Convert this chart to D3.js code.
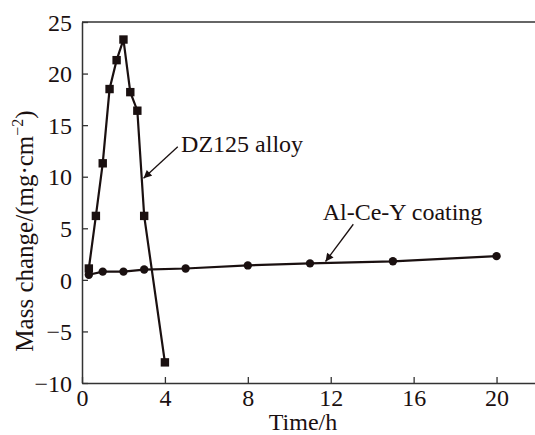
<!DOCTYPE html>
<html><head><meta charset="utf-8">
<script src="https://cdn.jsdelivr.net/npm/d3@7"></script>
<style>body{margin:0;background:#fff}</style>
</head><body><svg id="c" width="535" height="435"></svg>
<script>
const dzTime = [0.33, 0.67, 1, 1.33, 1.67, 2, 2.33, 2.67, 3, 4];
const dzMass = [1.1, 6.2, 11.3, 18.5, 21.3, 23.3, 18.2, 16.4, 6.2, -8.0];
const coTime = [0.33, 1, 2, 3, 5, 8, 11, 15, 20];
const coMass = [0.5, 0.8, 0.8, 1.0, 1.1, 1.4, 1.6, 1.8, 2.3];
const xTicks = [0, 4, 8, 12, 16, 20];
const yTicks = [-10, -5, 0, 5, 10, 15, 20, 25];
const labels = [
  {text: "DZ125 alloy", x: 4.78, y: 12.4, ax: 4.62, ay: 12.9, tx: 2.97, ty: 9.85},
  {text: "Al-Ce-Y coating", x: 11.61, y: 5.8, ax: 13.09, ay: 5.39, tx: 11.75, ty: 1.78}
];

const FONT = "'Liberation Serif', 'Times New Roman', Times, serif";
const col = "#1a1010";
const svg = d3.select("#c");
const x = d3.scaleLinear().domain([0, 22]).range([82, 538]);
const y = d3.scaleLinear().domain([-10, 25]).range([383, 22]);

svg.append("defs").append("marker").attr("id","ah").attr("viewBox","0 0 10 10")
  .attr("refX",10).attr("refY",5).attr("markerWidth",10).attr("markerHeight",8)
  .attr("markerUnits","userSpaceOnUse").attr("orient","auto")
  .append("path").attr("d","M0,0L10,5L0,10z").attr("fill",col);

// frame top
svg.append("line").attr("x1",x(0)).attr("x2",x(22)).attr("y1",y(25)).attr("y2",y(25))
  .attr("stroke","#333").attr("stroke-width",1.5);

const xa = svg.append("g").attr("transform",`translate(0,${y(-10)})`)
  .call(d3.axisBottom(x).tickValues(xTicks).tickSizeInner(-6).tickSizeOuter(0).tickPadding(6).tickFormat(d3.format("d")));
const ya = svg.append("g").attr("transform",`translate(${x(0)},0)`)
  .call(d3.axisLeft(y).tickValues(yTicks).tickSizeInner(-6).tickSizeOuter(0).tickPadding(10).tickFormat(d3.format("d")));
[xa, ya].forEach(g => {
  g.attr("font-family", FONT).attr("font-size", 24);
  g.select(".domain").attr("stroke","#333").attr("stroke-width",1.5);
  g.selectAll(".tick line").attr("stroke","#333").attr("stroke-width",1.3);
  g.selectAll(".tick text").style("font-family",FONT).style("font-size","24px").attr("fill",col);
});
xa.selectAll(".tick text").attr("dy","0.71em");
ya.selectAll(".tick text").attr("dy","0.34em");

svg.append("text").attr("x",303).attr("y",430).attr("text-anchor","middle")
  .style("font-family",FONT).style("font-size","24px").attr("fill",col).text("Time/h");
const yl = svg.append("text").attr("transform",`translate(33,231) rotate(-90)`)
  .attr("text-anchor","middle").style("font-family",FONT).style("font-size","25px").attr("fill",col);
yl.append("tspan").text("Mass change/(mg·cm");
yl.append("tspan").style("font-size","16px").attr("dy",-10).text("−2");
yl.append("tspan").attr("dy",10).text(")");

const line = d3.line().x(d => x(d[0])).y(d => y(d[1]));
const dz = dzTime.map((t,i) => [t, dzMass[i]]);
const co = coTime.map((t,i) => [t, coMass[i]]);

svg.append("path").datum(co).attr("d",line).attr("fill","none").attr("stroke",col).attr("stroke-width",2.2);
svg.append("path").datum(dz).attr("d",line).attr("fill","none").attr("stroke",col).attr("stroke-width",2.2);
svg.selectAll("circle.co").data(co).join("circle").attr("class","co")
  .attr("cx",d=>x(d[0])).attr("cy",d=>y(d[1])).attr("r",4.2).attr("fill",col);
svg.selectAll("rect.dz").data(dz).join("rect").attr("class","dz")
  .attr("x",d=>x(d[0])-4.2).attr("y",d=>y(d[1])-4.2).attr("width",8.4).attr("height",8.4).attr("fill",col);

labels.forEach(l => {
  svg.append("line").attr("x1",x(l.ax)).attr("y1",y(l.ay)).attr("x2",x(l.tx)).attr("y2",y(l.ty))
    .attr("stroke",col).attr("stroke-width",1.3).attr("marker-end","url(#ah)");
  svg.append("text").attr("x",x(l.x)).attr("y",y(l.y)).style("font-family",FONT).style("font-size","24px")
    .attr("fill",col).text(l.text);
});
</script></body></html>
